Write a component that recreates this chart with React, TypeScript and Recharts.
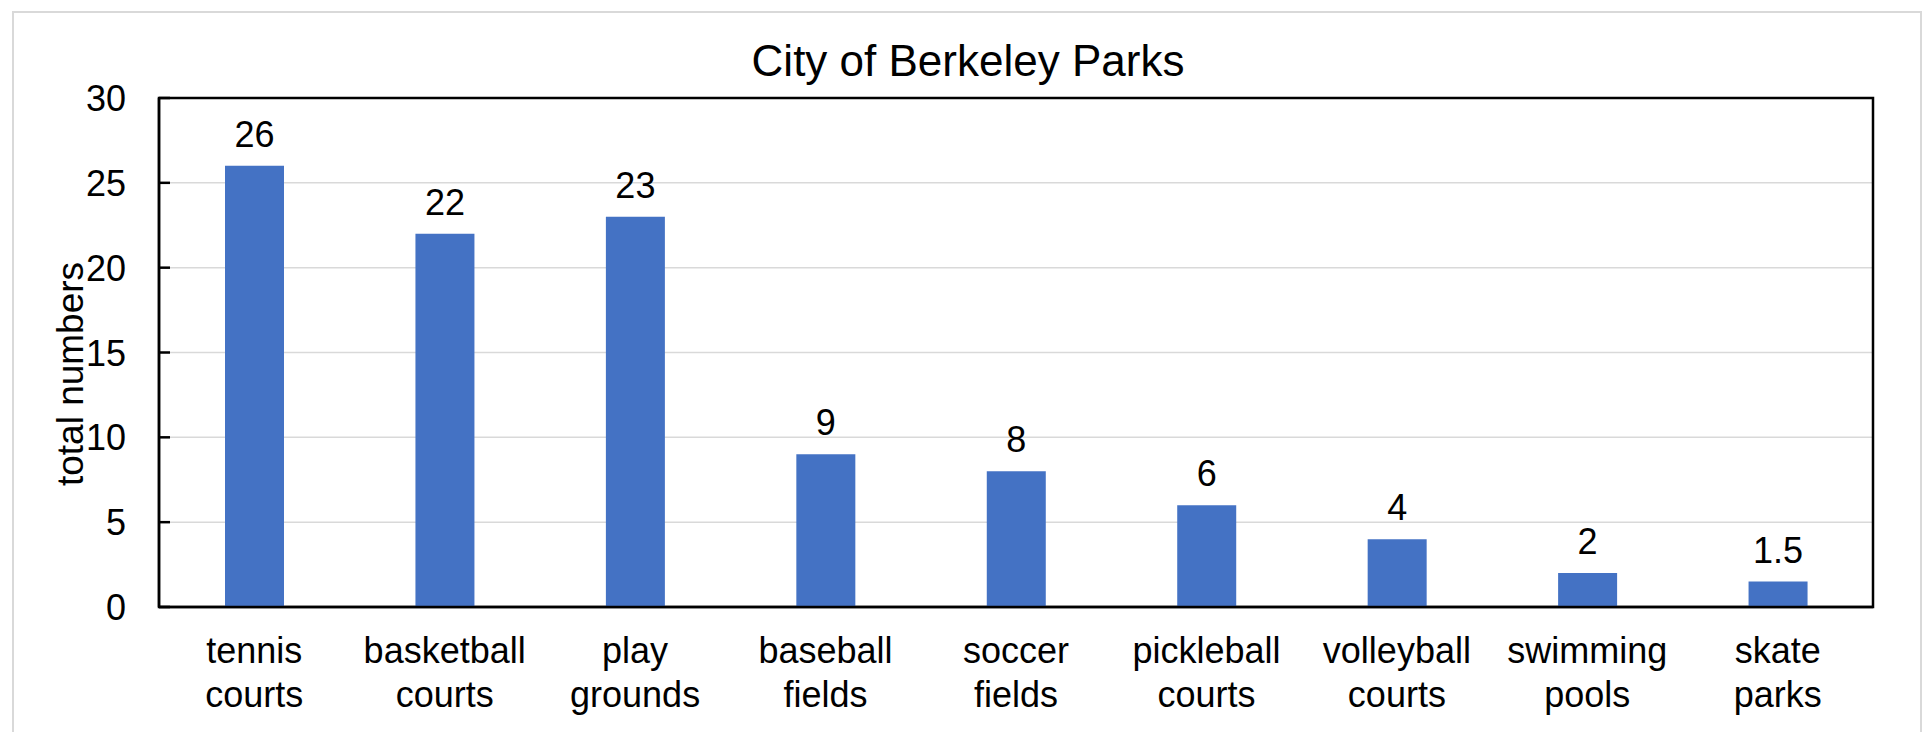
import React from "react";
import { BarChart, Bar, XAxis, YAxis, CartesianGrid, LabelList, Customized, ReferenceArea } from "recharts";

const categories = [
  "tennis courts",
  "basketball courts",
  "play grounds",
  "baseball fields",
  "soccer fields",
  "pickleball courts",
  "volleyball courts",
  "swimming pools",
  "skate parks",
];
const totals = [26, 22, 23, 9, 8, 6, 4, 2, 1.5];
const yTicks = [0, 5, 10, 15, 20, 25, 30];
const chartTitle = "City of Berkeley Parks";
const yTitle = "total numbers";

const data = categories.map((name, i) => ({ name, value: totals[i] }));

const FONT = "'Liberation Sans', Arial, sans-serif";
const W = 1928;
const H = 732;
const PLOT_LEFT = 159;
const PLOT_TOP = 98;
const PLOT_RIGHT = 1873;
const PLOT_BOTTOM = 607;
const Y_AXIS_W = 60;
const X_AXIS_H = 60;

const YTick = (props: any) => {
  const { x, y, payload } = props;
  const axisX = x + 33;
  return (
    <g>
      <line x1={axisX} x2={axisX + 11} y1={y} y2={y} stroke="#000" strokeWidth={2.5} />
      <text x={x} y={y + 13} textAnchor="end" fontSize={36} fontFamily={FONT} fill="#000">
        {payload.value}
      </text>
    </g>
  );
};

const XTick = (props: any) => {
  const { x, y, payload } = props;
  const words = String(payload.value).split(" ");
  return (
    <g>
      {words.map((w: string, i: number) => (
        <text key={i} x={x} y={y + 56 + i * 44} textAnchor="middle" fontSize={36} fontFamily={FONT} fill="#000">
          {w}
        </text>
      ))}
    </g>
  );
};

const ValueLabel = (props: any) => {
  const { x, y, width, value } = props;
  return (
    <text x={x + width / 2} y={y - 19} textAnchor="middle" fontSize={36} fontFamily={FONT} fill="#000">
      {value}
    </text>
  );
};

const Decorations = () => (
  <g>
    <rect x={13} y={12} width={1908} height={760} fill="none" stroke="#d9d9d9" strokeWidth={2} />
    <text x={968} y={76} textAnchor="middle" fontSize={44} fontFamily={FONT} fill="#000">
      {chartTitle}
    </text>
    <text
      x={83}
      y={374}
      transform="rotate(-90, 83, 374)"
      textAnchor="middle"
      fontSize={37}
      fontFamily={FONT}
      fill="#000"
    >
      {yTitle}
    </text>
  </g>
);

export default function App() {
  return (
    <div style={{ position: "absolute", left: 0, top: 0, width: W, height: H, background: "#fff" }}>
      <BarChart
        width={W}
        height={H}
        data={data}
        margin={{
          top: PLOT_TOP,
          left: PLOT_LEFT - Y_AXIS_W,
          right: W - PLOT_RIGHT,
          bottom: H - PLOT_BOTTOM - X_AXIS_H,
        }}
      >
        <Customized component={Decorations} />
        <CartesianGrid horizontal vertical={false} stroke="#d9d9d9" strokeWidth={1.5} />
        <XAxis
          dataKey="name"
          height={X_AXIS_H}
          interval={0}
          tickLine={false}
          tickSize={0}
          tickMargin={0}
          axisLine={{ stroke: "#000", strokeWidth: 2.5 }}
          tick={<XTick />}
        />
        <YAxis
          domain={[0, 30]}
          ticks={yTicks}
          width={Y_AXIS_W}
          tickLine={false}
          tickSize={0}
          tickMargin={33}
          axisLine={{ stroke: "#000", strokeWidth: 2.5 }}
          tick={<YTick />}
          interval={0}
        />
        <Bar dataKey="value" fill="#4472C4" barSize={59} isAnimationActive={false}>
          <LabelList dataKey="value" content={<ValueLabel />} />
        </Bar>
        <ReferenceArea
          y1={0}
          y2={30}
          fill="none"
          fillOpacity={0}
          stroke="#000"
          strokeWidth={2.5}
          ifOverflow="visible"
        />
      </BarChart>
    </div>
  );
}
